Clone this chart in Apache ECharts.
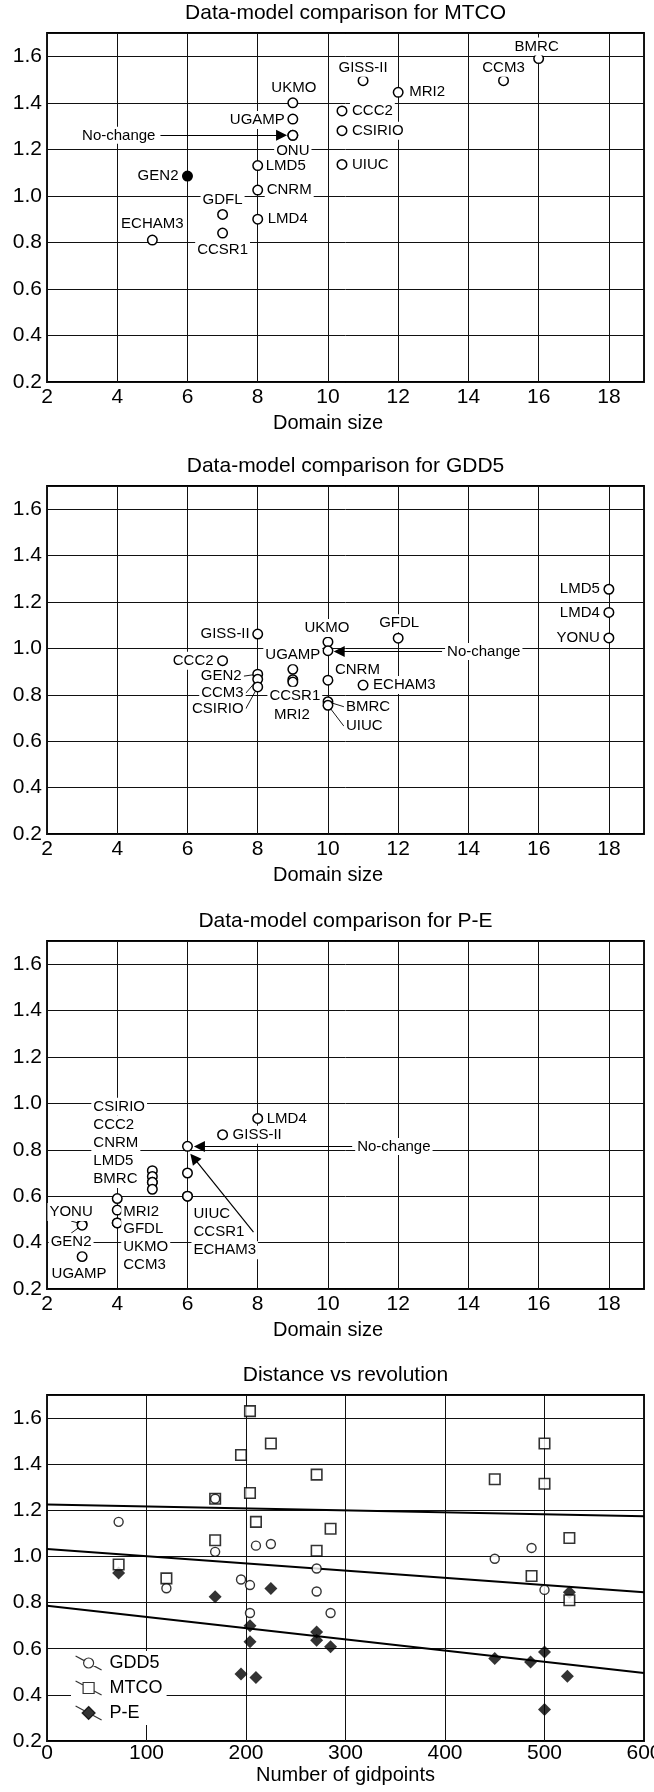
<!DOCTYPE html>
<html>
<head>
<meta charset="utf-8">
<script src="https://cdn.jsdelivr.net/npm/echarts@6/dist/echarts.min.js"></script>
<style>
html,body{margin:0;padding:0;background:#fff;}
#chart{width:654px;height:1792px;}
</style>
</head>
<body>
<div id="chart"></div>
<script>
// ---------------- DATA ----------------
const panelTitles = ['Data-model comparison for MTCO', 'Data-model comparison for GDD5', 'Data-model comparison for P-E', 'Distance vs revolution'];
const domainAxisName = 'Domain size';
const gridpointAxisName = 'Number of gidpoints';
const noChangeText = 'No-change';

// Panel 1: MTCO
const mtcoModels   = ['BMRC','CCM3','GISS-II','MRI2','UKMO','UGAMP','ONU','CCC2','CSIRIO','UIUC','LMD5','GEN2','CNRM','LMD4','GDFL','CCSR1','ECHAM3'];
const mtcoDomain   = [16, 15, 11, 12, 9, 9, 9, 10.4, 10.4, 10.4, 8, 6, 8, 8, 7, 7, 5];
const mtcoDistance = [1.59, 1.495, 1.495, 1.445, 1.40, 1.33, 1.26, 1.365, 1.28, 1.135, 1.13, 1.085, 1.025, 0.90, 0.92, 0.84, 0.81];
const mtcoFilled   = ['GEN2'];

// Panel 2: GDD5
const gdd5Models   = ['LMD5','LMD4','YONU','GISS-II','UKMO','GFDL','CCC2','UGAMP','CCSR1','MRI2','GEN2','CCM3','CSIRIO','CNRM','ECHAM3','BMRC','UIUC'];
const gdd5Domain   = [18, 18, 18, 8, 10, 12, 7, 9, 9, 9, 8, 8, 8, 10, 11, 10, 10];
const gdd5Distance = [1.255, 1.155, 1.045, 1.062, 1.028, 1.044, 0.947, 0.91, 0.865, 0.855, 0.889, 0.867, 0.834, 0.863, 0.842, 0.77, 0.755];

// Panel 3: P-E
const peModels   = ['YONU','GEN2','UGAMP','MRI2','GFDL','UKMO','CCM3','CSIRIO','CCC2','CNRM','LMD5','BMRC','UIUC','CCSR1','ECHAM3','GISS-II','LMD4'];
const peDomain   = [3, 3, 3, 4, 4, 4, 4, 5, 5, 5, 5, 5, 6, 6, 6, 7, 8];
const peDistance = [0.48, 0.475, 0.34, 0.59, 0.54, 0.485, 0.485, 0.71, 0.685, 0.66, 0.66, 0.63, 0.70, 0.60, 0.60, 0.865, 0.935];

// No-change reference (panels 1-3) and annotation arrows (data coordinates)
const noChangeDomain   = [9, 10, 6];
const noChangeDistance = [1.26, 0.99, 0.815];
const noChangeArrowFrom = [[5.23, 1.26], [13.25, 0.987], [10.69, 0.814]];
const noChangeArrowTo   = [[8.68, 1.26], [10.32, 0.987], [6.34, 0.814]];
const peGroupArrowFrom = [7.88, 0.445];
const peGroupArrowTo   = [6.18, 0.765];

// Panel 4: distance vs number of gridpoints
const gdd5Gridpts = [72, 169, 210, 225, 169, 271, 195, 204, 120, 271, 204, 285, 450, 487, 500];
const gdd5Dist    = [1.15, 1.25, 1.047, 1.054, 1.02, 0.948, 0.90, 0.876, 0.862, 0.848, 0.755, 0.755, 0.99, 1.037, 0.855];
const mtcoGridpts = [204, 225, 195, 271, 204, 169, 210, 285, 169, 271, 72, 120, 500, 450, 500, 525, 487, 525];
const mtcoDist    = [1.63, 1.49, 1.44, 1.355, 1.275, 1.25, 1.15, 1.12, 1.07, 1.025, 0.965, 0.905, 1.49, 1.335, 1.315, 1.08, 0.915, 0.81];
const peGridpts   = [72, 169, 225, 204, 204, 271, 271, 285, 195, 210, 450, 486, 500, 523, 500, 525];
const peDist      = [0.928, 0.825, 0.861, 0.70, 0.63, 0.673, 0.637, 0.609, 0.49, 0.475, 0.558, 0.543, 0.586, 0.481, 0.337, 0.845];
const trendGridpts = [0, 600];
const mtcoTrend    = [1.225, 1.174];
const gdd5Trend    = [1.032, 0.845];
const peTrend      = [0.786, 0.495];

// ---------------- LAYOUT / STYLE ----------------
const FONT = "'Liberation Sans', Arial, Helvetica, sans-serif";
const gridLeft = 47, gridWidth = 597;
const gridTops = [33, 486, 941, 1395];
const gridHeights = [349, 348, 348, 346];
const LABEL_PAD = 2;

// label placement: [dx, dy, align, leaderLine] relative to point centre (px)
const mtcoLabelPlace = {
  'BMRC': [-2, -12, 'center'], 'CCM3': [0, -13, 'center'], 'GISS-II': [0, -13, 'center'],
  'MRI2': [11, 0, 'left'], 'UKMO': [1, -15, 'center'], 'UGAMP': [-8, 1, 'right'],
  'ONU': [0, 15, 'center'], 'CCC2': [10, 0, 'left'], 'CSIRIO': [10, 0, 'left'],
  'UIUC': [10, 0, 'left'], 'LMD5': [8, 0, 'left'], 'GEN2': [-9, 0, 'right'],
  'CNRM': [9, 0, 'left'], 'LMD4': [10, 0, 'left'], 'GDFL': [0, -15, 'center'],
  'CCSR1': [0, 17, 'center'], 'ECHAM3': [0, -16, 'center']
};
const gdd5LabelPlace = {
  'LMD5': [-9, 0, 'right'], 'LMD4': [-9, 0, 'right'], 'YONU': [-9, 0, 'right'],
  'GISS-II': [-8, 0, 'right'], 'UKMO': [-1, -14, 'center'], 'GFDL': [1, -15, 'center'],
  'CCC2': [-9, 0, 'right'], 'UGAMP': [0, -14, 'center'], 'CCSR1': [2, 16, 'center'],
  'MRI2': [-1, 33, 'center'], 'GEN2': [-16, 2, 'right', true], 'CCM3': [-14, 14, 'right', true],
  'CSIRIO': [-14, 22, 'right', true], 'CNRM': [7, -10, 'left'], 'ECHAM3': [10, 0, 'left'],
  'BMRC': [18, 5, 'left', true], 'UIUC': [18, 21, 'left', true]
};
const peLabelPlace = {
  'YONU': [-11, -12, 'center', true], 'GEN2': [-11, 17, 'center', true], 'UGAMP': [-3, 17, 'center'],
  'MRI2': [6, 13, 'left'], 'GFDL': [6, 19, 'left'], 'UKMO': [6, 24, 'left'], 'CCM3': [6, 42, 'left'],
  'CSIRIO': [-59, -64, 'left'], 'CCC2': [-59, -51.5, 'left'], 'CNRM': [-59, -39, 'left'],
  'LMD5': [-59, -21.3, 'left'], 'BMRC': [-59, -10.2, 'left'],
  'UIUC': [6, 41, 'left'], 'CCSR1': [6, 36, 'left'], 'ECHAM3': [6, 54, 'left'],
  'GISS-II': [10, 0, 'left'], 'LMD4': [9, 0, 'left']
};

const openCircle = {color: '#fff', borderColor: '#000', borderWidth: 1.5, opacity: 1};

function pointLabel(p) {
  const dx = p[0], dy = p[1], align = p[2];
  const ox = align === 'left' ? dx - LABEL_PAD : (align === 'right' ? dx + LABEL_PAD : dx);
  return {
    show: true, position: 'inside', offset: [ox, dy], align: align, verticalAlign: 'middle',
    formatter: '{b}', color: '#000', fontSize: 15, fontFamily: FONT,
    backgroundColor: '#fff', padding: [1, LABEL_PAD], lineHeight: 16,
    textBorderWidth: 0, textBorderColor: 'transparent', textShadowBlur: 0
  };
}

function modelSeries(idx, models, xs, ys, place, filled) {
  return {
    type: 'scatter', xAxisIndex: idx, yAxisIndex: idx, z: 3,
    symbol: 'circle', symbolSize: 9.5,
    itemStyle: openCircle,
    emphasis: {disabled: true},
    labelLine: {show: false},
    data: models.map((m, i) => {
      const item = {name: m, value: [xs[i], ys[i]], label: pointLabel(place[m])};
      if (place[m][3]) item.labelLine = {show: true, length2: 0, lineStyle: {color: '#000', width: 0.9}};
      if (filled && filled.indexOf(m) >= 0) item.itemStyle = {color: '#000', borderColor: '#000'};
      return item;
    })
  };
}

function noChangeSeries(idx, extraArrows) {
  const lines = [[{coord: noChangeArrowFrom[idx]}, {coord: noChangeArrowTo[idx]}]];
  (extraArrows || []).forEach(a => lines.push([{coord: a[0], label: {show: false}}, {coord: a[1], label: {show: false}}]));
  return {
    type: 'scatter', xAxisIndex: idx, yAxisIndex: idx, z: 3,
    symbol: 'circle', symbolSize: 9.5, itemStyle: openCircle,
    emphasis: {disabled: true},
    data: [[noChangeDomain[idx], noChangeDistance[idx]]],
    markLine: {
      silent: true, animation: false,
      symbol: ['none', 'triangle'], symbolSize: 11,
      itemStyle: {color: '#000', borderColor: '#000'},
      lineStyle: {color: '#000', width: 1.2, type: 'solid'},
      emphasis: {disabled: true},
      label: {show: true, position: 'start', formatter: noChangeText, distance: 3,
              color: '#000', fontSize: 15, fontFamily: FONT, backgroundColor: '#fff', padding: [1, 2]},
      data: lines
    }
  };
}

const grids = gridTops.map((t, i) => ({
  left: gridLeft, top: t, width: gridWidth, height: gridHeights[i],
  show: true, borderColor: '#000', borderWidth: 1.8, backgroundColor: '#fff',
  containLabel: false, outerBoundsMode: 'none'
}));

const splitStyle = {show: true, lineStyle: {color: '#111', width: 1}};

function domainXAxis(i) {
  return {
    gridIndex: i, type: 'value', min: 2, max: 19, interval: 2,
    name: domainAxisName, nameLocation: 'middle', nameGap: 31, nameMoveOverlap: false,
    nameTextStyle: {fontSize: 20, color: '#000', fontFamily: FONT, padding: [0, 35, 0, 0]},
    axisLine: {show: false}, axisTick: {show: false},
    axisLabel: {margin: 5, fontSize: 21, color: '#000', fontFamily: FONT, showMaxLabel: false, showMinLabel: true},
    splitLine: splitStyle
  };
}
function distanceYAxis(i) {
  return {
    gridIndex: i, type: 'value', min: 0.2, max: 1.7, interval: 0.2,
    axisLine: {show: false}, axisTick: {show: false},
    axisLabel: {margin: 5, fontSize: 21, color: '#000', fontFamily: FONT, showMaxLabel: false, showMinLabel: true,
                formatter: v => v.toFixed(1)},
    splitLine: splitStyle
  };
}

const xAxes = [domainXAxis(0), domainXAxis(1), domainXAxis(2), {
  gridIndex: 3, type: 'value', min: 0, max: 600, interval: 100,
  name: gridpointAxisName, nameLocation: 'middle', nameGap: 24, nameMoveOverlap: false,
  nameTextStyle: {fontSize: 20, color: '#000', fontFamily: FONT},
  axisLine: {show: false}, axisTick: {show: false},
  axisLabel: {margin: 2, fontSize: 21, color: '#000', fontFamily: FONT, showMaxLabel: true, showMinLabel: true},
  splitLine: splitStyle
}];
const yAxes = [0, 1, 2, 3].map(distanceYAxis);

const titles = panelTitles.map((t, i) => ({
  text: t, left: gridLeft + gridWidth / 2, textAlign: 'center', top: gridTops[i] - 30, padding: 0,
  textStyle: {fontSize: 21, fontWeight: 'normal', color: '#000', fontFamily: FONT}
}));

function pairs(xs, ys) { return xs.map((x, i) => [x, ys[i]]); }

function trendSeries(name, ys) {
  return {
    name: name, type: 'line', xAxisIndex: 3, yAxisIndex: 3, z: 2,
    data: pairs(trendGridpts, ys), symbol: 'none', silent: true,
    lineStyle: {color: '#000', width: 2}, emphasis: {disabled: true}
  };
}

const series = [
  modelSeries(0, mtcoModels, mtcoDomain, mtcoDistance, mtcoLabelPlace, mtcoFilled),
  noChangeSeries(0),
  modelSeries(1, gdd5Models, gdd5Domain, gdd5Distance, gdd5LabelPlace, null),
  noChangeSeries(1),
  modelSeries(2, peModels, peDomain, peDistance, peLabelPlace, null),
  noChangeSeries(2, [[peGroupArrowFrom, peGroupArrowTo]]),
  trendSeries('MTCO trend', mtcoTrend),
  trendSeries('GDD5 trend', gdd5Trend),
  trendSeries('P-E trend', peTrend),
  {name: 'P-E', type: 'scatter', xAxisIndex: 3, yAxisIndex: 3, z: 3, symbol: 'diamond', symbolSize: 13,
   itemStyle: {color: '#000'}, emphasis: {disabled: true}, data: pairs(peGridpts, peDist)},
  {name: 'MTCO', type: 'scatter', xAxisIndex: 3, yAxisIndex: 3, z: 3, symbol: 'rect', symbolSize: 10.5,
   itemStyle: {color: '#fff', borderColor: '#000', borderWidth: 1.6}, emphasis: {disabled: true}, data: pairs(mtcoGridpts, mtcoDist)},
  {name: 'GDD5', type: 'scatter', xAxisIndex: 3, yAxisIndex: 3, z: 3, symbol: 'circle', symbolSize: 9,
   itemStyle: {color: '#fff', borderColor: '#000', borderWidth: 1.4}, emphasis: {disabled: true}, data: pairs(gdd5Gridpts, gdd5Dist)}
];

const legendIcons = {
  'GDD5': 'path://M0,0L8.6,4.63M17.4,9.37L26,14M18,7A5,5,0,1,1,8,7A5,5,0,1,1,18,7Z',
  'MTCO': 'path://M0,0L7.5,4.04M18.5,9.96L26,14M7.5,1.5L18.5,1.5L18.5,12.5L7.5,12.5Z',
  'P-E':  'path://M0,0L8.78,4.72M17.23,9.28L26,14M13,0.5L19.5,7L13,13.5L6.5,7Z'
};

const option = {
  animation: false,
  backgroundColor: '#fff',
  title: titles,
  grid: grids,
  xAxis: xAxes,
  yAxis: yAxes,
  legend: {
    show: true, orient: 'vertical', left: 71, top: 1651, padding: [3, 4], itemGap: 7,
    itemWidth: 26, itemHeight: 14, selectedMode: false, backgroundColor: '#fff',
    textStyle: {fontSize: 18, color: '#000', fontFamily: FONT, padding: [0, 0, 0, 3]},
    data: [
      {name: 'GDD5', icon: legendIcons['GDD5'], itemStyle: {color: '#fff', borderColor: '#000', borderWidth: 1.2}},
      {name: 'MTCO', icon: legendIcons['MTCO'], itemStyle: {color: '#fff', borderColor: '#000', borderWidth: 1.2}},
      {name: 'P-E', icon: legendIcons['P-E'], itemStyle: {color: '#000', borderColor: '#000', borderWidth: 1.2}}
    ]
  },
  series: series
};

const chart = echarts.init(document.getElementById('chart'), null, {renderer: 'canvas'});
chart.setOption(option);
</script>
</body>
</html>
